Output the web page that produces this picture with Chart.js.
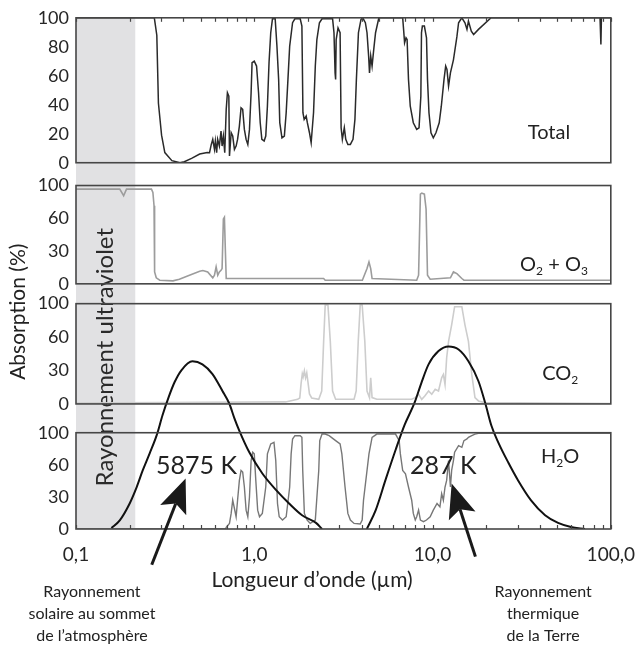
<!DOCTYPE html>
<html><head><meta charset="utf-8">
<script src="https://cdn.jsdelivr.net/npm/chart.js@4.4.1/dist/chart.umd.min.js"></script>
<style>html,body{margin:0;padding:0;background:#fff;overflow:hidden}#wrap{position:relative;width:635px;height:645px}</style>
</head><body><div id="wrap"><canvas id="c" width="635" height="645"></canvas></div>
<script>
const FONT = 'Lato, "Open Sans", sans-serif';

// ---- Data: [wavelength (µm), absorption (%)] ----
const totalSeries = [
[0.1,100],[0.275,100],[0.284,88],[0.29,41],[0.302,19],[0.315,7],[0.345,1.4],[0.383,0],[0.405,0.7],[0.445,3],[0.494,6],[0.545,7],[0.561,6.9],
[0.574,12.6],[0.585,16.1],[0.598,9.2],[0.605,15],[0.615,6.9],[0.623,16.1],[0.637,11.5],[0.651,21.8],[0.66,11.5],[0.671,18.4],[0.683,6.9],[0.696,36.8],[0.707,48.3],[0.72,46],[0.726,4.6],[0.742,20.7],[0.757,18.4],[0.774,9.2],[0.791,11.5],[0.806,16.1],[0.825,25.3],[0.843,37.9],[0.861,36.8],[0.88,23],[0.9,16.1],[0.92,12.6],[0.94,23],[0.96,48.3],[0.972,69],[1.0,70.1],[1.03,66.7],[1.057,48.3],[1.08,27.6],[1.103,16.1],[1.136,15],[1.16,18.4],[1.185,39],[1.21,69],[1.237,89.7],[1.265,99.3],[1.31,99.3],[1.34,80.5],[1.37,57.5],[1.39,27.6],[1.43,17.2],[1.475,18.4],[1.51,34.5],[1.545,57.5],[1.58,80.5],[1.64,96.6],[1.69,99.3],[1.81,99.3],[1.85,94.3],[1.875,34.5],[1.905,29.9],[1.955,32.2],[1.985,27.6],[2.04,20.7],[2.085,13.8],[2.15,34.5],[2.2,66.7],[2.245,85],[2.32,96.6],[2.4,99.3],[2.75,99.3],[2.8,89.7],[2.84,62],[2.86,57.5],[2.88,85],[2.95,93],[3.03,89.7],[3.07,24.1],[3.12,16.1],[3.2,24.1],[3.26,16.1],[3.35,12.6],[3.46,12.6],[3.58,16.1],[3.67,29.9],[3.74,57.5],[3.84,89.7],[3.97,98.9],[4.06,100],[4.2,96.6],[4.29,89.7],[4.38,73.6],[4.43,62],[4.5,73.6],[4.58,66.7],[4.68,78.2],[4.79,89.7],[5.0,100],[6.8,100],[6.88,92],[6.97,82.8],[7.1,86.2],[7.2,85],[7.33,57.5],[7.5,39],[7.8,27.6],[8.15,23],[8.4,24.1],[8.6,46],[8.67,89.7],[8.77,94.3],[9.0,94.3],[9.25,86.2],[9.37,57.5],[9.55,34.5],[9.8,20.7],[10.1,17.2],[10.45,20.7],[10.9,27.6],[11.2,39],[11.6,57.5],[11.85,66.7],[12.05,64.4],[12.3,52.9],[12.6,62],[13.1,71],[13.7,87],[14.0,96.6],[14.6,100],[15.2,96.6],[15.6,92],[15.9,97.7],[16.5,90.8],[17,88.5],[18.1,92],[21.3,100],[87,100],[88,81.6],[88.6,100],[100,100]
];
const o2o3Series = [
[0.1,96.3],[0.176,96.3],[0.185,89.6],[0.192,96.3],[0.265,96.3],[0.27,92.9],[0.274,79.5],[0.276,12.1],[0.282,6.1],[0.295,3.7],[0.35,3],[0.38,4.7],[0.433,8.8],[0.494,12.8],[0.515,13.5],[0.548,12.1],[0.585,6.1],[0.598,8.8],[0.611,17.2],[0.624,8.8],[0.637,12.1],[0.651,13.8],[0.66,15.5],[0.671,66],[0.68,67.7],[0.688,35.7],[0.696,5.4],[0.726,5.4],[2.45,5.4],[2.5,3.7],[4.04,3.7],[4.29,15.5],[4.4,22.2],[4.5,15.5],[4.58,5.4],[8.15,3.7],[8.35,8.8],[8.55,91.2],[8.7,92.3],[9.0,91.2],[9.2,76],[9.37,8.8],[9.7,4.7],[12.6,6.1],[13.1,12.1],[13.7,10.4],[14.6,5.4],[15.0,3.7],[100,3.7]
];
const co2Series = [
[0.1,1],[1.5,2],[1.75,4.6],[1.8,6],[1.83,20],[1.86,30],[1.88,27],[1.91,33],[1.94,26],[1.97,31],[2.0,22],[2.04,10],[2.1,6],[2.3,4.6],[2.39,12.9],[2.45,62.4],[2.5,98.7],[2.59,98.7],[2.67,62.4],[2.75,12.9],[2.86,4.6],[3.63,4.6],[3.73,12.9],[3.83,62.4],[3.93,98.7],[4.03,98.7],[4.17,62.4],[4.29,12.9],[4.43,6.3],[4.5,26],[4.58,6.3],[4.87,4.6],[7.64,4.6],[8.0,6.3],[8.35,9.6],[8.7,4.6],[9.05,7.9],[9.5,12.9],[9.9,9.6],[10.35,14.5],[10.8,12.9],[11.25,26],[11.5,29.4],[11.75,19.5],[12.0,45.8],[12.3,62.4],[12.8,78.9],[13.3,97],[14.6,97],[15.2,78.9],[15.9,62.4],[16.6,29.4],[17.3,6.3],[18.1,3],[19.6,1.3],[100,0.5]
];
const h2oSeries = [
[0.1,0],[0.69,0],[0.696,1.7],[0.726,5.8],[0.742,16.2],[0.757,29.9],[0.774,21.3],[0.791,12.7],[0.806,29.9],[0.825,50.5],[0.843,60.8],[0.861,59.1],[0.88,43.6],[0.9,19.6],[0.92,12.7],[0.94,33.3],[0.96,71.1],[0.98,79.7],[1.0,78],[1.02,50.5],[1.045,19.6],[1.07,12.7],[1.11,16.2],[1.16,43.6],[1.185,78],[1.237,88.3],[1.29,90],[1.32,71.1],[1.35,26.5],[1.38,12.7],[1.44,9.3],[1.51,12.7],[1.58,43.6],[1.61,78],[1.64,93.5],[1.69,96.9],[1.81,96.9],[1.85,95.2],[1.87,60.8],[1.91,16.2],[1.98,9.3],[2.06,5.8],[2.2,9.3],[2.3,60.8],[2.33,91.8],[2.4,98.6],[2.5,98.6],[2.63,96.9],[2.86,91.8],[3.03,88.3],[3.1,78],[3.23,43.6],[3.35,16.2],[3.46,9.3],[3.63,5.8],[3.93,5.2],[4.03,9.3],[4.1,29.9],[4.4,78],[4.58,95.2],[4.87,98.6],[6.2,98.6],[6.5,91.8],[6.6,78],[6.8,60.8],[7.05,57.4],[7.33,43.6],[7.64,29.9],[7.8,16.2],[8.0,9.3],[8.15,12.7],[8.35,19.6],[8.55,9.3],[8.9,7.6],[9.25,9.3],[9.7,12.7],[10.1,19.6],[10.6,26.5],[11.0,23],[11.25,36.8],[11.5,29.9],[11.75,43.6],[12.0,50.5],[12.3,71.1],[12.6,43.6],[12.8,60.8],[13.1,71.1],[13.3,79.7],[14.0,86.6],[14.6,84.8],[15.0,91.8],[15.6,93.5],[15.9,95.2],[16.6,96.9],[17.3,98.6],[18.1,99.3],[19.6,99.3],[100,99.3]
];
// Planck emission curves (relative units, full-height overlay)
const solarCurve = [
[0.158,0.2],[0.176,1.7],[0.2,5.0],[0.219,8.2],[0.237,11.5],[0.259,14.8],[0.284,18.4],[0.306,22.3],[0.331,25.8],[0.357,28.7],[0.391,31.1],[0.45,32.8],[0.512,32.2],[0.583,30.3],[0.663,27.0],[0.725,24.5],[0.773,21.7],[0.825,19.2],[0.938,15.0],[1.108,10.9],[1.327,7.6],[1.568,5.0],[1.854,2.7],[2.22,1.2],[2.4,0]
];
const earthCurve = [
[4.28,0],[4.8,3.7],[5.46,9.7],[6.21,15.5],[6.98,20.4],[7.93,24.7],[8.68,28.7],[9.5,32.2],[10.8,34.8],[12.3,35.7],[14.0,35.1],[15.9,32.8],[18.1,28.9],[19.8,24.5],[21.4,20.2],[23.4,16.9],[26.6,13.0],[30.2,9.5],[35.7,5.6],[42.8,2.7],[50.6,1.2],[59.8,0.4],[71.6,0]
];

// ---- Ticks ----
const xTickMarks = [0.1,0.2,0.3,0.4,0.5,0.6,0.7,0.8,0.9,1,2,3,4,5,6,7,8,9,10,20,30,40,50,60,70,80,90,100];
const xLabelValues = [0.1, 1, 10, 100];
const xTickLabels = ['0,1', '1,0', '10,0', '100,0'];
const totalTickValues = [0, 20, 40, 60, 80, 100];
const totalTickLabels = ['0', '20', '40', '60', '80', '100'];
const gasTickValues = [0, 100/3, 200/3, 100];
const gasTickLabels = ['0', '30', '60', '100'];
const uvBand = [0.1, 0.215];

// ---- Annotations (data-space anchors) ----
const panelNames = [
  {axis: 'yTotal', at: [45, 21], parts: [['Total','']]},
  {axis: 'yO2', at: [48, 20], parts: [['O',''],['2','s'],[' + ',''],['O',''],['3','s']]},
  {axis: 'yCO2', at: [52, 31], parts: [['CO',''],['2','s']]},
  {axis: 'yH2O', at: [52, 76], parts: [['H',''],['2','s'],['O','']]}
];
const curveLabels = [{text: '5875 K', at: [0.474, 12.4]}, {text: '287 K', at: [11.5, 12.4]}];
const arrows = [{from: [0.266, -7.0], to: [0.412, 9.9]}, {from: [17.4, -5.4], to: [12.8, 8.9]}];

const xy = arr => arr.map(([x, y]) => ({x, y}));

function panelAxis(tv, tl, max, weight, stackWeight) {
  return {
    type: 'linear', position: 'left', stack: 'panels', stackWeight, weight,
    min: 0, max,
    grid: {display: false, drawTicks: false},
    border: {display: false},
    ticks: {autoSkip: false, padding: 7, color: '#262626', font: {family: FONT, size: 18},
            callback: (v, i) => tl[i]},
    afterBuildTicks: s => { s.ticks = tv.map(v => ({value: v})); },
    afterFit: s => { s.width = 76; }
  };
}

function richText(ctx, parts, cx, cy, size) {
  const big = size + 'px ' + FONT, small = Math.round(size * 0.62) + 'px ' + FONT;
  let w = 0;
  parts.forEach(([t, s]) => { ctx.font = s ? small : big; w += ctx.measureText(t).width; });
  let x = cx - w / 2;
  ctx.textAlign = 'left'; ctx.textBaseline = 'alphabetic';
  const base = cy + size * 0.36;
  parts.forEach(([t, s]) => {
    ctx.font = s ? small : big;
    ctx.fillText(t, x, s ? base + size * 0.2 : base);
    x += ctx.measureText(t).width;
  });
}

function drawArrow(ctx, x0, y0, x1, y1) {
  const dx = x1 - x0, dy = y1 - y0, L = Math.hypot(dx, dy), ux = dx / L, uy = dy / L, nx = -uy, ny = ux;
  const hl = 34, hw = 14, notch = 27;
  ctx.strokeStyle = '#1a1a1a'; ctx.fillStyle = '#1a1a1a'; ctx.lineWidth = 3;
  ctx.beginPath(); ctx.moveTo(x0, y0); ctx.lineTo(x1 - ux * notch, y1 - uy * notch); ctx.stroke();
  ctx.beginPath();
  ctx.moveTo(x1, y1);
  ctx.lineTo(x1 - ux * hl + nx * hw, y1 - uy * hl + ny * hw);
  ctx.lineTo(x1 - ux * notch, y1 - uy * notch);
  ctx.lineTo(x1 - ux * hl - nx * hw, y1 - uy * hl - ny * hw);
  ctx.closePath(); ctx.fill();
}

const decor = {
  id: 'decor',
  beforeDatasetsDraw(chart) {
    const {ctx, chartArea: a, scales: s} = chart;
    ctx.save();
    const x0 = s.x.getPixelForValue(uvBand[0]), x1 = s.x.getPixelForValue(uvBand[1]);
    ctx.fillStyle = '#e1e1e3';
    ctx.fillRect(x0, a.top, x1 - x0, a.bottom - a.top);
    ctx.translate(s.x.getPixelForValue(0.145), s.yP.getPixelForValue(33.6));
    ctx.rotate(-Math.PI / 2);
    ctx.fillStyle = '#2a2a2a'; ctx.font = '24px ' + FONT;
    ctx.textAlign = 'center'; ctx.textBaseline = 'middle';
    ctx.fillText('Rayonnement ultraviolet', 0, 0);
    ctx.restore();
  },
  afterDatasetsDraw(chart) {
    const {ctx, chartArea: a, scales: s} = chart;
    ctx.save();
    ctx.strokeStyle = '#464646'; ctx.lineWidth = 1.6;
    ['yTotal', 'yO2', 'yCO2', 'yH2O'].forEach(id => {
      const t = s[id].getPixelForValue(100), b = s[id].getPixelForValue(0);
      ctx.strokeRect(a.left, t, a.right - a.left, b - t);
    });
    ctx.lineWidth = 1.2;
    const top = s.yTotal.getPixelForValue(100), bot = s.yH2O.getPixelForValue(0);
    xTickMarks.forEach(v => {
      const px = Math.round(s.x.getPixelForValue(v)) + 0.5;
      ctx.beginPath(); ctx.moveTo(px, top); ctx.lineTo(px, top + 4); ctx.stroke();
      ctx.beginPath(); ctx.moveTo(px, bot); ctx.lineTo(px, bot - 4); ctx.stroke();
    });
    ctx.fillStyle = '#222';
    panelNames.forEach(p => richText(ctx, p.parts, s.x.getPixelForValue(p.at[0]), s[p.axis].getPixelForValue(p.at[1]), 20));
    ctx.font = '25px ' + FONT; ctx.textAlign = 'center'; ctx.textBaseline = 'middle';
    curveLabels.forEach(c => ctx.fillText(c.text, s.x.getPixelForValue(c.at[0]), s.yP.getPixelForValue(c.at[1])));
    ctx.restore();
  },
  afterDraw(chart) {
    const {ctx, chartArea: a, scales: s} = chart;
    ctx.save();
    arrows.forEach(r => drawArrow(ctx,
      s.x.getPixelForValue(r.from[0]), s.yP.getPixelForValue(r.from[1]),
      s.x.getPixelForValue(r.to[0]), s.yP.getPixelForValue(r.to[1])));
    ctx.fillStyle = '#222'; ctx.textAlign = 'center'; ctx.textBaseline = 'middle';
    ctx.font = '21px ' + FONT;
    ctx.fillText('Longueur d\u2019onde (\u00b5m)', s.x.getPixelForValue(2.11), a.bottom + 51);
    ctx.font = '16px ' + FONT;
    const capL = ['Rayonnement', 'solaire au sommet', 'de l\u2019atmosph\u00e8re'];
    const capR = ['Rayonnement', 'thermique', 'de la Terre'];
    capL.forEach((t, i) => ctx.fillText(t, s.x.getPixelForValue(0.1229), a.bottom + 63 + i * 22));
    capR.forEach((t, i) => ctx.fillText(t, s.x.getPixelForValue(41.7), a.bottom + 63 + i * 22));
    ctx.translate(18, s.yP.getPixelForValue(42.5));
    ctx.rotate(-Math.PI / 2);
    ctx.font = '21px ' + FONT;
    ctx.fillText('Absorption (%)', 0, 0);
    ctx.restore();
  }
};

const line = (data, axis, color, width, extra) => Object.assign({
  data: xy(data), yAxisID: axis, borderColor: color, borderWidth: width,
  pointRadius: 0, fill: false, tension: 0, order: 1
}, extra || {});

new Chart(document.getElementById('c'), {
  type: 'line',
  data: {
    datasets: [
      line(solarCurve, 'yP', '#111', 2, {cubicInterpolationMode: 'monotone', order: 0}),
      line(earthCurve, 'yP', '#111', 2, {cubicInterpolationMode: 'monotone', order: 0}),
      line(totalSeries, 'yTotal', '#2a2a2a', 1.5),
      line(o2o3Series, 'yO2', '#9c9c9c', 1.6),
      line(co2Series, 'yCO2', '#cdcdcd', 1.6),
      line(h2oSeries, 'yH2O', '#777777', 1.4)
    ]
  },
  options: {
    responsive: false, animation: false, events: [], devicePixelRatio: 1,
    layout: {padding: {top: 14, right: 22, left: 0, bottom: 0}},
    plugins: {legend: {display: false}, tooltip: {enabled: false}},
    scales: {
      x: {
        type: 'logarithmic', position: 'bottom', min: 0.1, max: 100,
        grid: {display: false, drawTicks: false}, border: {display: false},
        ticks: {autoSkip: false, maxRotation: 0, padding: 0, color: '#262626',
                font: {family: FONT, size: 19, lineHeight: 2.74},
                callback: v => { const i = xLabelValues.findIndex(t => Math.abs(t - v) < 1e-9); return i >= 0 ? xTickLabels[i] : ''; }},
        afterBuildTicks: sc => { sc.ticks = xTickMarks.map(v => ({value: v})); },
        afterFit: sc => { sc.height = 116; }
      },
      yP: {type: 'linear', position: 'right', display: false, min: 0, max: 100},
      yH2O: panelAxis(gasTickValues, gasTickLabels, 129.9, 1, 126),
      yCO2: panelAxis(gasTickValues, gasTickLabels, 119.8, 2, 121),
      yO2: panelAxis(gasTickValues, gasTickLabels, 123.2, 3, 122),
      yTotal: panelAxis(totalTickValues, totalTickLabels, 100, 4, 146)
    }
  },
  plugins: [decor]
});
</script>
</body></html>
